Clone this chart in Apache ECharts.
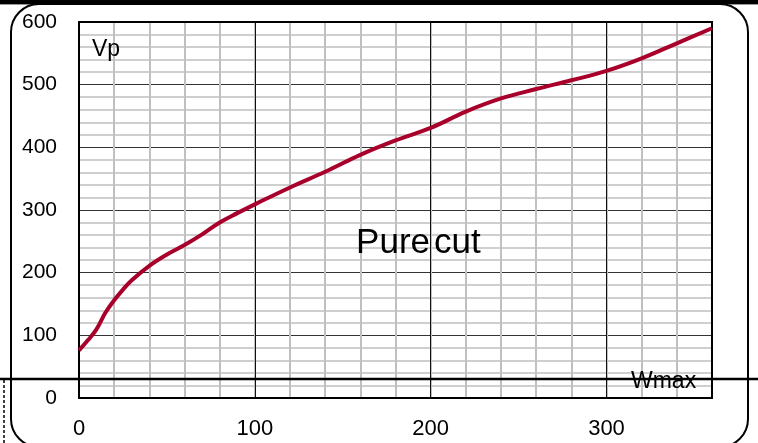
<!DOCTYPE html>
<html>
<head>
<meta charset="utf-8">
<script src="https://cdn.jsdelivr.net/npm/echarts@6/dist/echarts.min.js"></script>
<style>
  html, body { margin: 0; padding: 0; background: #fff; }
  #chart { width: 758px; height: 443px; }
</style>
</head>
<body>
<div id="chart"></div>
<script>
// Wmax (x) and Vp (y)
const wmax = [0, 5, 10, 15, 20, 25, 30, 40, 50, 60, 70, 80, 90, 100, 120, 140, 160, 180, 200, 220, 240, 260, 280, 300, 320, 340, 360];
const vp = [76, 92, 110, 136, 156, 173, 188, 211, 229, 244, 261, 280, 295, 309, 336, 361, 388, 411, 431, 457, 478, 493, 507, 522, 542, 566, 590];
const xTicks = [0, 100, 200, 300];
const yTicks = [0, 100, 200, 300, 400, 500, 600];

const font = '"Liberation Sans", Arial, sans-serif';
const gray = '#c0c0c0';

const chart = echarts.init(document.getElementById('chart'));
chart.setOption({
    animation: false,
    grid: {
        left: 79, right: 46, top: 22, bottom: 45,
        show: true, z: 1,
        borderColor: '#000', borderWidth: 2,
        backgroundColor: 'transparent'
    },
    xAxis: [
        {
            // fine grid, every 20
            type: 'value', position: 'top',
            min: 0, max: 360, interval: 20,
            axisLine: {show: false},
            axisTick: {show: false},
            axisLabel: {show: false},
            splitLine: {show: true, lineStyle: {color: gray, width: 2}}
        },
        {
            type: 'value', position: 'bottom',
            min: 0, max: 360, interval: 100,
            axisLine: {show: false},
            axisTick: {show: false},
            axisLabel: {
                color: '#000', fontSize: 22, fontFamily: font, margin: 20,
                showMaxLabel: false,
                formatter(val) {
                    return xTicks.indexOf(val) >= 0 ? String(val) : '';
                }
            },
            splitLine: {show: true, lineStyle: {color: '#111', width: 1}}
        }
    ],
    yAxis: {
        type: 'value',
        min: 0, max: 600, interval: 100,
        axisLine: {show: false},
        axisTick: {show: false},
        axisLabel: {
            color: '#000', fontSize: 21, fontFamily: font, margin: 22,
            formatter(val) {
                return yTicks.indexOf(val) >= 0 ? String(val) : '';
            }
        },
        splitLine: {show: true, lineStyle: {color: '#333', width: 1}},
        minorTick: {show: false, splitNumber: 5},
        minorSplitLine: {show: true, lineStyle: {color: gray, width: 1.5}}
    },
    series: [{
        type: 'line',
        xAxisIndex: 1,
        data: wmax.map((w, i) => [w, vp[i]]),
        smooth: 0.4,
        symbol: 'none',
        lineStyle: {color: '#a8002a', width: 4}
    }],
    graphic: [
        {type: 'rect', shape: {x: 0, y: 0, width: 758, height: 4}, style: {fill: '#000'}, z: 10},
        {type: 'line', shape: {x1: 0, y1: 4.5, x2: 758, y2: 4.5}, style: {stroke: '#999', lineWidth: 1}, z: 10},
        {type: 'rect', shape: {x: 11, y: 4, width: 737, height: 443, r: 28},
            style: {fill: 'none', stroke: '#000', lineWidth: 2}, z: 10},
        {type: 'line', shape: {x1: 0, y1: 379, x2: 758, y2: 379}, style: {stroke: '#000', lineWidth: 2.5}, z: 10},
        {type: 'line', shape: {x1: 4, y1: 380, x2: 4, y2: 443},
            style: {stroke: '#000', lineWidth: 1.5, lineDash: [3, 2]}, z: 10},
        {type: 'text', left: 92, top: 38, z: 10,
            style: {text: 'Vp', fontSize: 23, fontFamily: font, fill: '#000'}},
        {type: 'text', left: 631, top: 370, z: 10,
            style: {text: 'Wmax', fontSize: 23, fontFamily: font, fill: '#000'}},
        {type: 'text', z: 10, style: {text: 'Pure', x: 430, y: 243, align: 'right', verticalAlign: 'middle', fontSize: 35, fontFamily: font, fill: '#000'}},
        {type: 'text', z: 10, style: {text: 'cut', x: 434, y: 243, align: 'left', verticalAlign: 'middle', fontSize: 35, fontFamily: font, fill: '#000'}}
    ]
});
</script>
</body>
</html>
